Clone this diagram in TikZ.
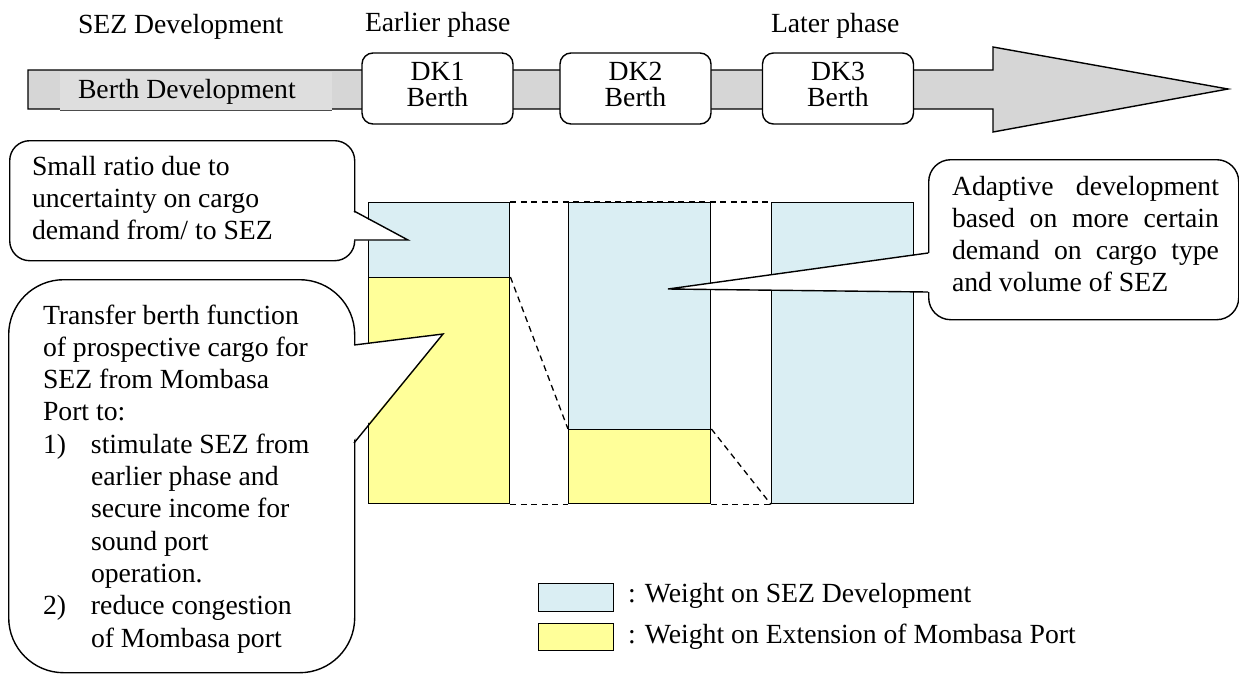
\documentclass[tikz,border=0pt]{standalone}
\usepackage{fontspec}
\setmainfont{Liberation Serif}
\definecolor{sezblue}{HTML}{DAEEF3}
\definecolor{extyellow}{HTML}{FFFF99}
\definecolor{bargray}{HTML}{D6D6D6}
\definecolor{boxgray}{HTML}{DEDEDE}
\newcommand\fsmain{\fontsize{27.7pt}{32.3pt}\selectfont}
\newcommand\fsdk{\fontsize{27.7pt}{26pt}\selectfont}
\begin{document}
\begin{tikzpicture}[x=1pt,y=-1pt,line width=1.4pt,
  txt/.style={inner sep=0pt,outer sep=0pt,font=\fsmain,align=left},
  dkbox/.style={draw,fill=white,rounded corners=11pt,minimum width=151pt,minimum height=71pt,inner sep=0pt},
  dktext/.style={inner sep=0pt,font=\fsdk,align=center},
  barbox/.style={draw,inner sep=0pt,anchor=north west},
  calloutbox/.style={draw,fill=white,inner sep=0pt,anchor=north west},
  dashline/.style={dash pattern=on 6pt off 4.5pt,line width=1.3pt},
  legbox/.style={draw,inner sep=0pt,minimum width=75pt,anchor=north west}]
\useasboundingbox (0,0) rectangle (1239,673);

% top arrow
\draw[fill=bargray] (28,70) -- (993,70) -- (993,47) -- (1228,89) -- (993,132) -- (993,109) -- (28,109) -- cycle;
\fill[boxgray] (60,72) rectangle (332,110.5);
\draw[gray!60!black,line width=0.9pt] (60,110.8) -- (332,110.8);
\node[txt,anchor=base west] (berthdev) at (78,98) {Berth Development};

% top labels
\node[txt,anchor=base west] (sezdev) at (78,33) {SEZ Development};
\node[txt,anchor=base west] (earlier) at (365,31) {Earlier phase};
\node[txt,anchor=base west] (later) at (771,32) {Later phase};

% DK boxes
\node[dkbox] (dk1) at (437.5,88.5) {};
\node[dkbox] (dk2) at (635.5,88.5) {};
\node[dkbox] (dk3) at (838,88.5) {};
\node[dktext] (dk1t) at ([yshift=3.6pt]dk1.center) {DK1\\Berth};
\node[dktext] (dk2t) at ([yshift=3.6pt]dk2.center) {DK2\\Berth};
\node[dktext] (dk3t) at ([yshift=3.6pt]dk3.center) {DK3\\Berth};

% bars
\node[barbox,fill=sezblue,minimum width=141pt,minimum height=75pt] (b1s) at (368,202) {};
\node[barbox,fill=extyellow,minimum width=141pt,minimum height=226pt] (b1e) at (368,277) {};
\node[barbox,fill=sezblue,minimum width=142pt,minimum height=227pt] (b2s) at (568,202) {};
\node[barbox,fill=extyellow,minimum width=142pt,minimum height=74pt] (b2e) at (568,429) {};
\node[barbox,fill=sezblue,minimum width=142pt,minimum height=301pt] (b3s) at (771,202) {};

% dashed guides
\draw[dashline] (b1s.north east) -- (b3s.north west);
\draw[dashline] (b1e.south east) -- (b2e.south west);
\draw[dashline] (b2e.south east) -- (b3s.south west);
\draw[dashline] (b1e.north east) -- (b2e.north west);
\draw[dashline] (b2e.north east) -- (b3s.south west);

% callout 1
\node[calloutbox,rounded corners=20pt,minimum width=345pt,minimum height=120pt] (c1) at (9,140) {};
\coordinate (c1a) at (354,211);
\coordinate (c1tip) at (408,240);
\coordinate (c1b) at (354,240);
\fill[white] (351.5,211) -- (c1tip) -- (351.5,240.4) -- cycle;
\draw[line join=miter] (c1a) -- (c1tip) -- (c1b);
\node[txt,anchor=north west] (c1t) at (32,152.4) {\strut Small ratio due to\\uncertainty on cargo\\demand from/ to SEZ};

% callout 2
\node[calloutbox,rounded corners=55pt,minimum width=346pt,minimum height=393pt] (c2) at (8,279) {};
\coordinate (c2a) at (354,345);
\coordinate (c2tip) at (443,334);
\coordinate (c2b) at (354,443);
\fill[white] (351.5,345) -- (c2tip) -- (351.5,443) -- cycle;
\draw[line join=miter] (c2a) -- (c2tip) -- (c2b);
\node[txt,anchor=north west] (c2t) at (43,301.4) {\strut Transfer berth function\\
of prospective cargo for\\
SEZ from Mombasa\\
Port to:\\
\makebox[48pt][l]{1)}stimulate SEZ from\\
\hspace*{48pt}earlier phase and\\
\hspace*{48pt}secure income for\\
\hspace*{48pt}sound port\\
\hspace*{48pt}operation.\\
\makebox[48pt][l]{2)}reduce congestion\\
\hspace*{48pt}of Mombasa port};

% callout 3
\node[calloutbox,rounded corners=22pt,minimum width=310pt,minimum height=160pt] (c3) at (928,159) {};
\coordinate (c3a) at (928,253);
\coordinate (c3tip) at (668,289);
\coordinate (c3b) at (928,292);
\fill[white] (930.5,253) -- (c3tip) -- (930.5,292) -- cycle;
\draw[line join=miter] (c3a) -- (c3tip) -- (c3b);
\node[txt,anchor=north west] (c3t) at (952,172.4) {\strut\makebox[267pt][s]{Adaptive development}\\
\makebox[267pt][s]{based on more certain}\\
\makebox[267pt][s]{demand on cargo type}\\
and volume of SEZ};

% legend
\node[legbox,fill=sezblue,minimum height=28pt] (l1) at (538,583) {};
\node[legbox,fill=extyellow,minimum height=27pt] (l2) at (538,623) {};
\node[txt,anchor=base west] (l1t) at (628,602) {: Weight on SEZ Development};
\node[txt,anchor=base west] (l2t) at (628,643) {: Weight on Extension of Mombasa Port};
\end{tikzpicture}
\end{document}
